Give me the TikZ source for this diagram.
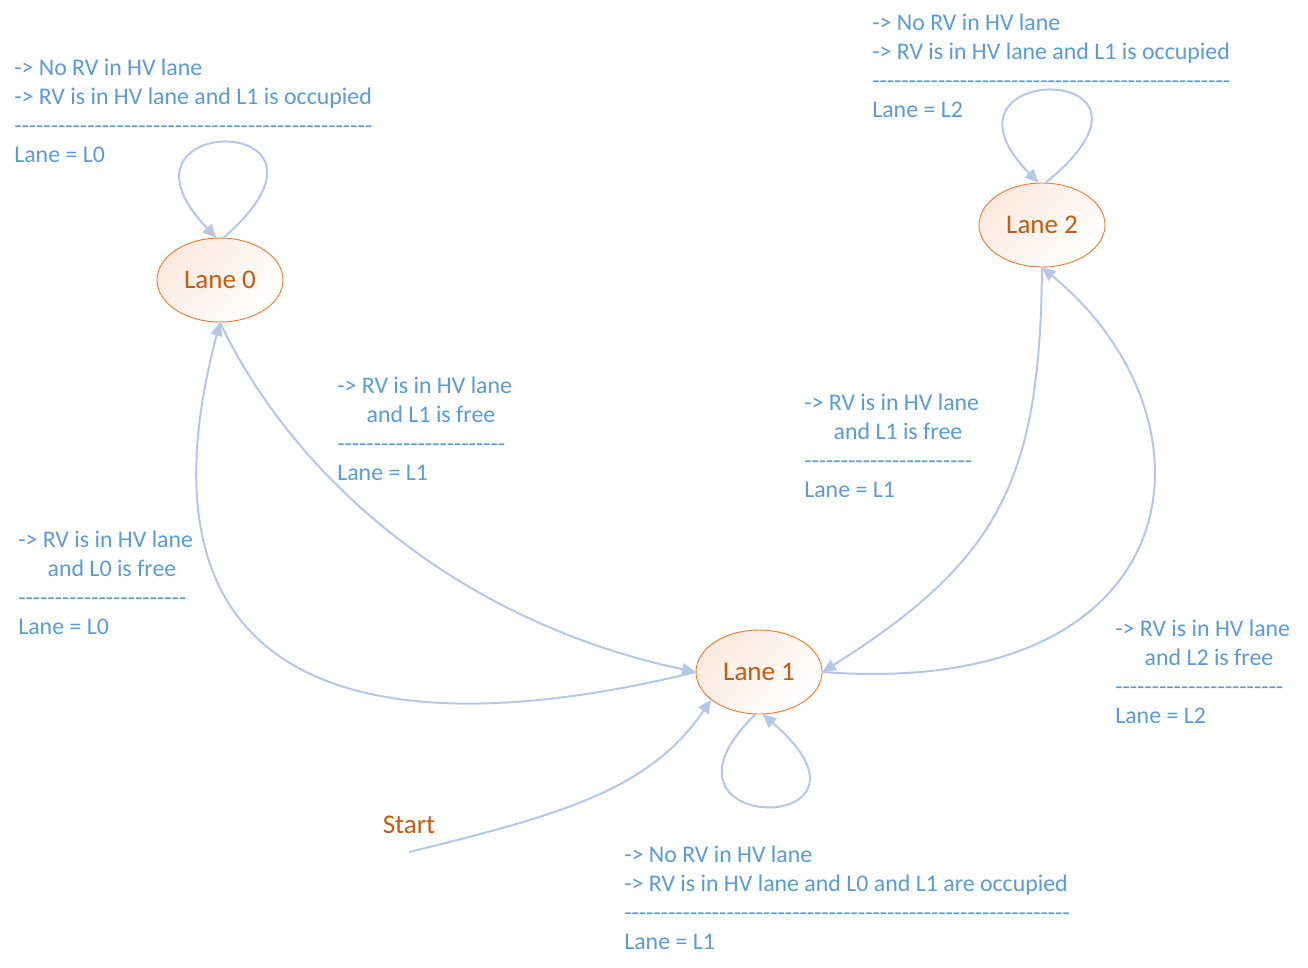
\documentclass[tikz,border=0pt]{standalone}
\usepackage{fontspec}
\newfontfamily\calfont{Carlito}
\usetikzlibrary{shapes.geometric}
\usetikzlibrary{arrows.meta}

\definecolor{edgeblue}{RGB}{180,199,231}
\definecolor{textblue}{RGB}{91,155,213}
\definecolor{laneorange}{RGB}{197,90,17}
\definecolor{rimorange}{RGB}{237,125,49}
\definecolor{lanepink}{RGB}{252,233,223}

\begin{document}
\begin{tikzpicture}[x=0.75pt,y=-0.75pt,
    lane/.style={ellipse,draw=rimorange,line width=0.7pt,top color=lanepink,bottom color=white,shading angle=45,
        minimum width=94.5pt,minimum height=63pt,inner sep=0pt,text=laneorange,font=\calfont\fontsize{20.25}{24}\selectfont},
    cond/.style={anchor=north west,inner sep=0pt,align=left,text=textblue,font=\calfont\fontsize{17.9}{21.75}\selectfont},
    trans/.style={draw=edgeblue,line width=1.5pt,-{Triangle[length=10pt,width=9pt]}}]
    \useasboundingbox (0,0) rectangle (1308,967);

    % 三个车道状态
    \node[lane] (l0) at (220,280) {Lane 0};
    \node[lane] (l1) at (759,672) {Lane 1};
    \node[lane] (l2) at (1042,225) {Lane 2};
    \node[text=laneorange,font=\calfont\fontsize{20.25}{24}\selectfont,inner sep=0pt] (start) at (409,825) {Start};
    \coordinate (s0) at (409,852);

    % 自环
    \draw[trans] (l0.85) .. controls (369,111) and (94,111) .. (l0.95);
    \draw[trans] (l2.85) .. controls (1197,60) and (918,60) .. (l2.95);
    \draw[trans] (l1.-95) .. controls (630,837) and (906,837) .. (l1.-85);

    % 状态之间的转移
    \draw[trans] (l0.south) .. controls (290,470) and (450,620) .. (l1.west);
    \draw[trans] (l1.west) .. controls (380,750) and (120,700) .. (l0.south);
    \draw[trans] (l2.south) .. controls (1040,480) and (1000,560) .. (l1.east);
    \draw[trans] (l1.east) .. controls (1195,700) and (1228,420) .. (l2.south);
    \draw[trans] (s0) .. controls (560,815) and (650,790) .. (l1.210);

    % 条件标注
    \node[cond] (c0) at (14,59) {-> No RV in HV lane\\-> RV is in HV lane and L1 is occupied\\-------------------------------------------------\\Lane = L0};
    \node[cond] (c2) at (872,14) {-> No RV in HV lane\\-> RV is in HV lane and L1 is occupied\\-------------------------------------------------\\Lane = L2};
    \node[cond] (c1) at (624,846) {-> No RV in HV lane\\-> RV is in HV lane and L0 and L1 are occupied\\-------------------------------------------------------------\\Lane = L1};
    \node[cond] (c01) at (337,377) {-> RV is in HV lane\\\hspace*{22pt}and L1 is free\\-----------------------\\Lane = L1};
    \node[cond] (c21) at (804,394) {-> RV is in HV lane\\\hspace*{22pt}and L1 is free\\-----------------------\\Lane = L1};
    \node[cond] (c10) at (18,531) {-> RV is in HV lane\\\hspace*{22pt}and L0 is free\\-----------------------\\Lane = L0};
    \node[cond] (c12) at (1115,620) {-> RV is in HV lane\\\hspace*{22pt}and L2 is free\\-----------------------\\Lane = L2};

\end{tikzpicture}
\end{document}
